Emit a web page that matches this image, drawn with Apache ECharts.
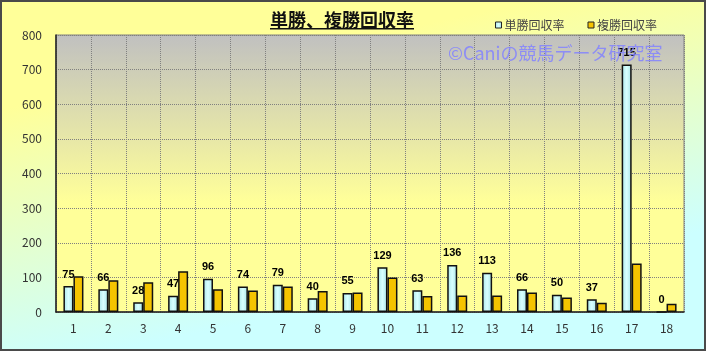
<!DOCTYPE html>
<html>
<head>
<meta charset="utf-8">
<script src="https://cdn.jsdelivr.net/npm/echarts@6/dist/echarts.min.js"></script>
<style>
  html, body { margin: 0; padding: 0; }
  #chart {
    width: 706px; height: 351px; box-sizing: border-box;
    border: 2px solid #4a4a4a;
  }
</style>
</head>
<body>
<div id="chart"></div>
<script>
// 馬番ごとの回収率
const categories = ['1','2','3','4','5','6','7','8','9','10','11','12','13','14','15','16','17','18']
const tanshoRate = [75, 66, 28, 47, 96, 74, 79, 40, 55, 129, 63, 136, 113, 66, 50, 37, 715, 0]
const fukushoRate = [103, 92, 86, 118, 66, 62, 74, 61, 56, 100, 46, 48, 48, 56, 42, 27, 140, 24]
const yTicks = [0, 100, 200, 300, 400, 500, 600, 700, 800]

const chart = echarts.init(document.getElementById('chart'))
const FONT = '"Noto Sans CJK JP", "Noto Sans", sans-serif'

chart.setOption({
  backgroundColor: {
    type: 'linear', x: 0.45, y: 0, x2: 0.55, y2: 1,
    colorStops: [
      { offset: 0, color: '#ffff99' },
      { offset: 0.12, color: '#ffff99' },
      { offset: 0.85, color: '#ccffff' },
      { offset: 1, color: '#ccffff' }
    ]
  },
  animation: false,
  title: {
    text: '単勝、複勝回収率',
    left: 263, top: 4,
    textStyle: { fontSize: 18, fontWeight: 'bold', color: '#111', fontFamily: FONT }
  },
  legend: {
    data: ['単勝回収率', '複勝回収率'],
    right: 42, top: 12,
    icon: 'rect',
    itemWidth: 6, itemHeight: 6, itemGap: 23,
    itemStyle: { borderColor: '#222', borderWidth: 1 },
    textStyle: { fontSize: 12, color: '#444', fontFamily: FONT, padding: [0, 0, 0, -2] }
  },
  graphic: [
    {
      type: 'rect', left: 268, top: 26,
      shape: { width: 144, height: 1.5 },
      style: { fill: '#111' }
    },
    {
      type: 'text', left: 446, top: 42, z: 100,
      style: {
        text: '©Caniの競馬データ研究室',
        fill: 'rgba(130,130,255,0.85)',
        font: '18px ' + FONT
      }
    }
  ],
  grid: {
    left: 54, right: 20, top: 33, bottom: 37,
    show: true, borderColor: '#808080', borderWidth: 1,
    backgroundColor: {
      type: 'linear', x: 0, y: 0, x2: 0, y2: 1,
      colorStops: [
        { offset: 0, color: '#c0c0c0' },
        { offset: 0.6, color: '#ffff99' },
        { offset: 1, color: '#ffff99' }
      ]
    }
  },
  xAxis: {
    type: 'category', data: categories,
    axisLine: { lineStyle: { color: '#222', width: 1.5 } },
    axisTick: { show: false },
    axisLabel: { color: '#333', fontSize: 12, margin: 10, fontFamily: FONT },
    splitLine: { show: true, lineStyle: { color: '#808080', type: 'dotted', width: 1 } }
  },
  yAxis: {
    type: 'value', min: 0, max: 800, interval: 100,
    axisLine: { show: true, lineStyle: { color: '#222', width: 1.5 } },
    axisTick: { show: false },
    axisLabel: {
      color: '#333', fontSize: 12, margin: 14, fontFamily: FONT,
      formatter: v => yTicks.includes(v) ? String(v) : ''
    },
    splitLine: { lineStyle: { color: '#808080', type: 'dotted', width: 1 } }
  },
  series: [
    {
      name: '単勝回収率', type: 'bar', data: tanshoRate,
      barWidth: 10, barGap: '0%',
      itemStyle: {
        color: {
          type: 'linear', x: 0, y: 0, x2: 1, y2: 0,
          colorStops: [
            { offset: 0, color: '#a8e4e8' },
            { offset: 0.5, color: '#d8ffff' },
            { offset: 1, color: '#a8e4e8' }
          ]
        },
        borderColor: '#111', borderWidth: 1.5
      },
      label: {
        show: true, position: 'top', distance: 6,
        color: '#000', fontSize: 11, fontWeight: 'bold', fontFamily: 'Arial, sans-serif'
      }
    },
    {
      name: '複勝回収率', type: 'bar', data: fukushoRate,
      barWidth: 10,
      itemStyle: { color: '#f5c400', borderColor: '#111', borderWidth: 1.5 }
    }
  ]
})
</script>
</body>
</html>
